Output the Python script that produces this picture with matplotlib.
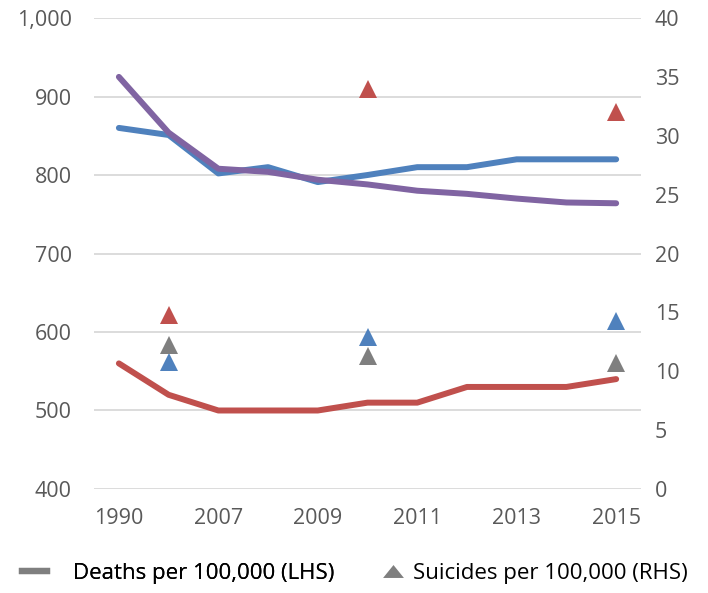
import matplotlib.pyplot as plt
from matplotlib.lines import Line2D

plt.rcParams['font.family'] = ['Open Sans', 'DejaVu Sans']

years = ['1990', '2000', '2007', '2008', '2009', '2010', '2011', '2012', '2013', '2014', '2015']

# deaths per 100,000 (left axis)
deaths_blue = [860, 851, 802, 810, 791, 800, 810, 810, 820, 820, 820]
deaths_purple = [925, 854, 808, 804, 794, 788, 780, 776, 770, 765, 764]
deaths_red = [560, 520, 500, 500, 500, 510, 510, 530, 530, 530, 540]

# suicides per 100,000 (right axis), only a few years
sui_idx = [1, 5, 10]
sui_red = [14.8, 34.0, 32.0]
sui_blue = [10.8, 12.9, 14.3]
sui_grey = [12.2, 11.3, 10.7]

c_blue = '#4F81BD'
c_red = '#C0504D'
c_purple = '#8064A2'
c_grey = '#7F7F7F'
txt = '#595959'

fig = plt.figure(figsize=(7.08, 5.93), dpi=100)
ax = fig.add_axes([0.1328, 0.1754, 0.7726, 0.7942])
ax2 = ax.twinx()

x = list(range(len(years)))
lw = 4.3
ax.plot(x, deaths_blue, color=c_blue, lw=lw, solid_capstyle='round', solid_joinstyle='round', zorder=3)
ax.plot(x, deaths_purple, color=c_purple, lw=lw, solid_capstyle='round', solid_joinstyle='round', zorder=4)
ax.plot(x, deaths_red, color=c_red, lw=lw, solid_capstyle='round', solid_joinstyle='round', zorder=3)

ax2.plot(sui_idx, sui_red, '^', color=c_red, ms=13, mew=0)
ax2.plot(sui_idx, sui_blue, '^', color=c_blue, ms=13, mew=0)
ax2.plot(sui_idx, sui_grey, '^', color=c_grey, ms=13, mew=0)

ax.set_xlim(-0.5, len(years) - 0.5)
ax.set_ylim(400, 1000)
ax2.set_ylim(0, 40)
ax.set_yticks(range(400, 1001, 100))
ax.set_yticklabels([f'{v:,}' for v in range(400, 1001, 100)])
ax2.set_yticks(range(0, 41, 5))

ax.set_xticks(x[::2])
ax.set_xticklabels(years[::2])

ax.grid(axis='y', color='#D9D9D9', lw=1.3)
ax.set_axisbelow(True)
for a in (ax, ax2):
    for s in a.spines.values():
        s.set_visible(False)
    a.tick_params(length=0, labelsize=15.5, labelcolor=txt)
ax.tick_params(axis='y', pad=16)
ax2.tick_params(axis='y', pad=10)
ax.tick_params(axis='x', pad=14)

# legend: two pieces so the gaps match the original
tri = [(-1, -0.62), (1, -0.62), (0, 0.62)]
leg1 = fig.legend([Line2D([], [], color=c_grey, lw=4.5)], ['Deaths per 100,000 (LHS)'],
                  loc='center left', bbox_to_anchor=(22 / 708, 1 - 573 / 593),
                  frameon=False, fontsize=16, borderpad=0, borderaxespad=0,
                  handlelength=1.13, handletextpad=1.15)
leg2 = fig.legend([Line2D([], [], marker=tri, color=c_grey, ls='none', ms=15, mew=0)],
                  ['Suicides per 100,000 (RHS)'],
                  loc='center left', bbox_to_anchor=(382 / 708, 1 - 573 / 593),
                  frameon=False, fontsize=16, borderpad=0, borderaxespad=0,
                  handlelength=0.95, handletextpad=0.45)
fig.add_artist(leg1)

fig.savefig('out.png', dpi=100)
